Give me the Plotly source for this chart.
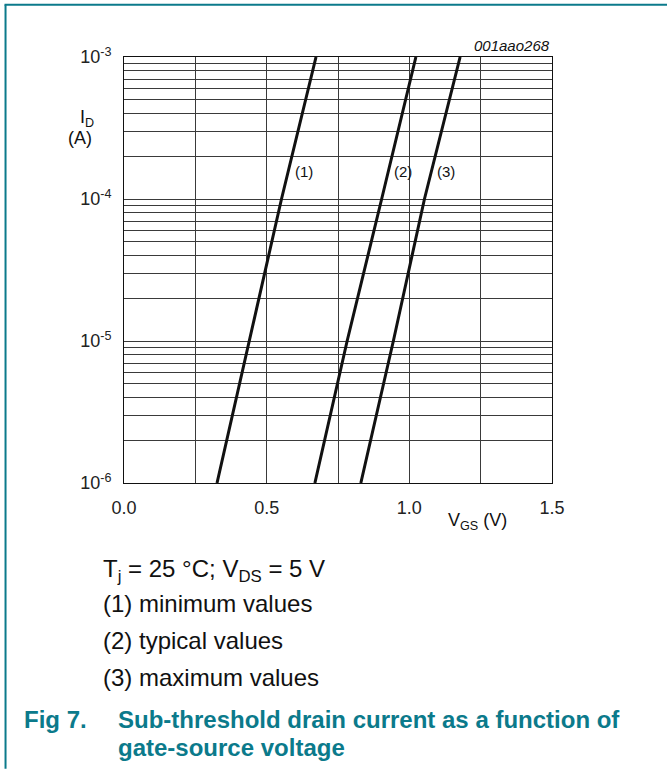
import math
import plotly.graph_objects as go

# Gate-source voltage (V) at which each curve crosses a decade of drain current
id_decades = [1e-6, 1e-5, 1e-4, 1e-3]
vgs_min = [0.326, 0.439, 0.552, 0.673]
vgs_typ = [0.669, 0.782, 0.903, 1.023]
vgs_max = [0.830, 0.944, 1.053, 1.178]

curve_labels = ["(1)", "(2)", "(3)"]
curve_label_x = [0.63, 0.977, 1.13]
curve_label_y = [1.55e-4, 1.55e-4, 1.55e-4]

x_major = [0.0, 0.5, 1.0, 1.5]
x_major_text = ["0.0", "0.5", "1.0", "1.5"]
x_minor = [0.25, 0.75, 1.25]
y_major = [1e-6, 1e-5, 1e-4, 1e-3]
y_major_text = ["10<sup>-6</sup>", "10<sup>-5</sup>", "10<sup>-4</sup>", "10<sup>-3</sup>"]
y_minor = [m * 10.0 ** e for e in (-6, -5, -4) for m in range(2, 10)]

W, H = 667, 769
L, R, T, B = 124.3, 551.7, 57.3, 483.3
FONT = "Liberation Sans, Arial, sans-serif"
TEAL = "#0b7a8b"
GRID = "#3a3a3a"


def px(x):
    return (x - L) / (R - L)


def py(y):
    return (B - y) / (B - T)


fig = go.Figure()
for xs in (vgs_min, vgs_typ, vgs_max):
    fig.add_trace(go.Scatter(x=xs, y=id_decades, mode="lines",
                             line=dict(color="#111111", width=3),
                             showlegend=False, hoverinfo="skip"))

annotations = []
for t, x, y in zip(curve_labels, curve_label_x, curve_label_y):
    annotations.append(dict(x=x, y=math.log10(y), xref="x", yref="y",
                            text=t, showarrow=False,
                            font=dict(size=15, color="#111111", family=FONT)))


def note(x, y, text, size, color="#111111", xanchor="left", bold=False, italic=False):
    if bold:
        text = "<b>" + text + "</b>"
    if italic:
        text = "<i>" + text + "</i>"
    annotations.append(dict(x=px(x), y=py(y), xref="paper", yref="paper", text=text,
                            showarrow=False, xanchor=xanchor, yanchor="middle",
                            font=dict(size=size, color=color, family=FONT)))


note(552, 46, "001aao268", 15, xanchor="right", italic=True)
note(78, 119, "I<sub>D</sub>", 18)
note(66, 138, "(A)", 18)
note(446, 522, "V<sub>GS</sub> (V)", 18)
note(101, 571, "T<sub>j</sub> = 25 °C; V<sub>DS</sub> = 5 V", 24)
note(101, 604, "(1) minimum values", 24)
note(101, 641, "(2) typical values", 24)
note(101, 678, "(3) maximum values", 24)
note(22, 720, "Fig 7.", 24, color=TEAL, bold=True)
note(116, 720, "Sub-threshold drain current as a function of", 24, color=TEAL, bold=True)
note(116, 748, "gate-source voltage", 24, color=TEAL, bold=True)

shapes = [
    dict(type="line", xref="paper", yref="paper", x0=px(5), x1=px(W), y0=py(5), y1=py(5),
         line=dict(color=TEAL, width=2)),
    dict(type="line", xref="paper", yref="paper", x0=px(6), x1=px(6), y0=py(5), y1=py(H),
         line=dict(color=TEAL, width=2)),
]

fig.update_layout(
    width=W, height=H, autosize=False,
    margin=dict(l=L, r=W - R, t=T, b=H - B, pad=0),
    paper_bgcolor="white", plot_bgcolor="white",
    annotations=annotations, shapes=shapes,
    xaxis=dict(range=[0, 1.5], tickmode="array", tickvals=x_major, ticktext=x_major_text,
               showgrid=True, gridcolor=GRID, gridwidth=1, zeroline=False,
               showline=True, linecolor="#111111", linewidth=1, mirror=True, ticks="",
               tickfont=dict(size=18, color="#222222", family=FONT), ticklabelstandoff=8,
               minor=dict(tickmode="array", tickvals=x_minor, showgrid=True,
                          gridcolor=GRID, gridwidth=1, ticks="")),
    yaxis=dict(type="log", range=[-6, -3], tickmode="array", tickvals=y_major,
               ticktext=y_major_text, showgrid=True, gridcolor=GRID, gridwidth=1,
               zeroline=False, showline=True, linecolor="#111111", linewidth=1, mirror=True,
               ticks="", tickfont=dict(size=18, color="#222222", family=FONT),
               ticklabelstandoff=8,
               minor=dict(tickmode="array", tickvals=y_minor, showgrid=True,
                          gridcolor=GRID, gridwidth=1, ticks="")),
)

fig.write_html("out.html")
